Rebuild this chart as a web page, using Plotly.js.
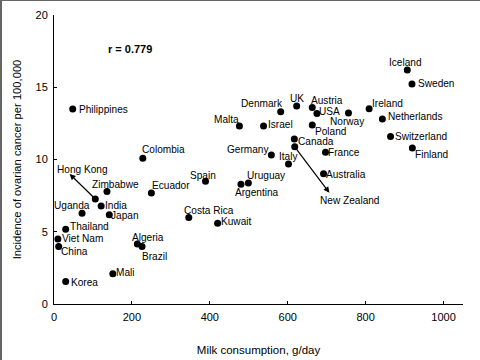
<!DOCTYPE html>
<html>
<head>
<meta charset="utf-8">
<script src="https://cdn.plot.ly/plotly-3.0.1.min.js"></script>
<style>
  html, body { margin: 0; padding: 0; background: #fff; }
  #wrap { position: relative; width: 480px; height: 360px; }
  #chart { position: absolute; left: 0; top: 0; width: 480px; height: 360px; }
  #frame { position: absolute; left: 0; top: 0; width: 478px; height: 359px;
           border-left: 2px solid #666; border-top: 1px solid #666; pointer-events: none; }
</style>
</head>
<body>
<div id="wrap"><div id="chart"></div><div id="frame"></div></div>
<script>
// ---- data ----
const countries = ["Philippines","Colombia","Hong Kong","Zimbabwe","India","Japan","Uganda","Thailand",
  "Viet Nam","China","Korea","Mali","Algeria","Brazil","Ecuador","Spain","Costa Rica","Kuwait",
  "Argentina","Uruguay","Italy","Germany","France","Australia","Canada","New Zealand","Malta","Israel",
  "Denmark","UK","Austria","USA","Poland","Norway","Ireland","Netherlands","Switzerland","Finland",
  "Iceland","Sweden"];
const milk = [48,228,106,136,121,142,72,30,10,12,30,151,214,226,250,389,346,420,
  480,499,602,558,697,692,617,618,476,538,582,623,663,675,663,756,809,843,864,920,907,919];
const incidence = [13.5,10.08,7.27,7.78,6.79,6.17,6.28,5.18,4.49,3.98,1.56,2.09,4.16,3.98,7.69,8.49,5.98,5.59,
  8.29,8.38,9.69,10.31,10.5,9.02,11.42,10.88,12.31,12.31,13.3,13.7,13.6,13.19,12.38,13.21,13.51,12.8,11.6,10.79,
  16.2,15.23];
const xTicks = [0,200,400,600,800,1000];
const yTicks = [0,5,10,15,20];
const corrText = "r = 0.779";
const xTitle = "Milk consumption, g/day";
const yTitle = "Incidence of ovarian cancer per 100,000";

// ---- label placement (style only): [anchor, dx px, dy px (down positive)] ----
const labelPlace = {
  "Philippines":["left",6.7,0.3], "Colombia":["left",-1.3,-8.6], "Hong Kong":["left",-38,-29],
  "Zimbabwe":["left",-15,-6.7], "India":["left",4.3,0], "Japan":["left",1.7,0.6],
  "Uganda":["center",-10.5,-7.6], "Thailand":["left",4,-3], "Viet Nam":["left",3.7,-0.3],
  "China":["left",2,5], "Korea":["left",5,1.3], "Mali":["left",3.4,-1], "Algeria":["left",-5.7,-6.7],
  "Brazil":["left",0,10], "Ecuador":["left",0.7,-7.3], "Spain":["center",-2.7,-6.3],
  "Costa Rica":["left",-5,-7], "Kuwait":["left",3.3,-1.6], "Argentina":["left",-5.7,8.7],
  "Uruguay":["left",-1.7,-7.7], "Italy":["center",0.3,-7], "Germany":["right",-2.7,-6],
  "France":["left",2.7,0], "Australia":["left",2.7,0.6], "Canada":["left",4,3],
  "New Zealand":["left",25.7,53.3], "Malta":["right",0,-7], "Israel":["left",4.7,-1.3],
  "Denmark":["right",2.7,-8], "UK":["center",0,-7.3], "Austria":["left",-1,-6.8],
  "USA":["left",2,-2.1], "Poland":["left",2.6,6.5], "Norway":["center",-0.7,8.0],
  "Ireland":["left",3.3,-5], "Netherlands":["left",5.3,-2.7], "Switzerland":["left",4,0.4],
  "Finland":["left",2.6,6.7], "Iceland":["center",-1.4,-7.7], "Sweden":["left",6,-0.7]
};
// arrows: head offset from dot in px (x right, y down)
const arrowPlace = { "Hong Kong":[-25.7,-25], "New Zealand":[34.7,46] };

const FONT = "Liberation Sans, Arial, Helvetica, sans-serif";

const annotations = [];
countries.forEach((c, i) => {
  const p = labelPlace[c];
  annotations.push({
    x: milk[i], y: incidence[i], xref: "x", yref: "y", text: c, showarrow: false,
    xanchor: p[0], yanchor: "middle", xshift: p[1], yshift: -p[2],
    borderpad: 0, borderwidth: 0,
    font: { family: FONT, size: 10.1, color: "#000" }
  });
  if (arrowPlace[c]) {
    const h = arrowPlace[c];
    annotations.push({
      x: milk[i], y: incidence[i], xref: "x", yref: "y", text: "",
      showarrow: true, arrowhead: 2, arrowsize: 1, arrowwidth: 1.2, arrowcolor: "#000",
      xshift: h[0], yshift: -h[1], ax: -h[0], ay: -h[1], standoff: 0, startstandoff: 0
    });
  }
});
annotations.push({
  x: 134, y: 17.68, xref: "x", yref: "y", text: "<b>" + corrText + "</b>", showarrow: false,
  xanchor: "left", yanchor: "middle", font: { family: FONT, size: 11, color: "#000" }
});

const trace = {
  x: milk, y: incidence, text: countries, type: "scatter", mode: "markers",
  marker: { color: "#000", size: 7 }, hoverinfo: "text"
};

const layout = {
  width: 480, height: 360,
  margin: { l: 54, r: 17, t: 15, b: 56 },
  paper_bgcolor: "#fff", plot_bgcolor: "#fff",
  showlegend: false,
  font: { family: FONT, size: 11, color: "#000" },
  xaxis: {
    range: [0, 1050], tickvals: xTicks, ticktext: xTicks.map(String),
    showline: true, linecolor: "#000", linewidth: 1, mirror: false,
    ticks: "inside", ticklen: 3, tickcolor: "#000", showgrid: false, zeroline: false,
    ticklabelstandoff: 3,
    tickfont: { family: FONT, size: 11, color: "#000" },
    title: { text: xTitle, font: { family: FONT, size: 11.5, color: "#000" }, standoff: 23 }
  },
  yaxis: {
    range: [0, 20], tickvals: yTicks, ticktext: yTicks.map(String),
    showline: true, linecolor: "#000", linewidth: 1, mirror: false,
    ticks: "inside", ticklen: 3, tickcolor: "#000", showgrid: false, zeroline: false,
    ticklabelstandoff: 3,
    tickfont: { family: FONT, size: 11, color: "#000" },
    title: { text: yTitle, font: { family: FONT, size: 11.2, color: "#000" }, standoff: 11 }
  },
  annotations: annotations
};

Plotly.newPlot("chart", [trace], layout, { staticPlot: true, displayModeBar: false });
</script>
</body>
</html>
